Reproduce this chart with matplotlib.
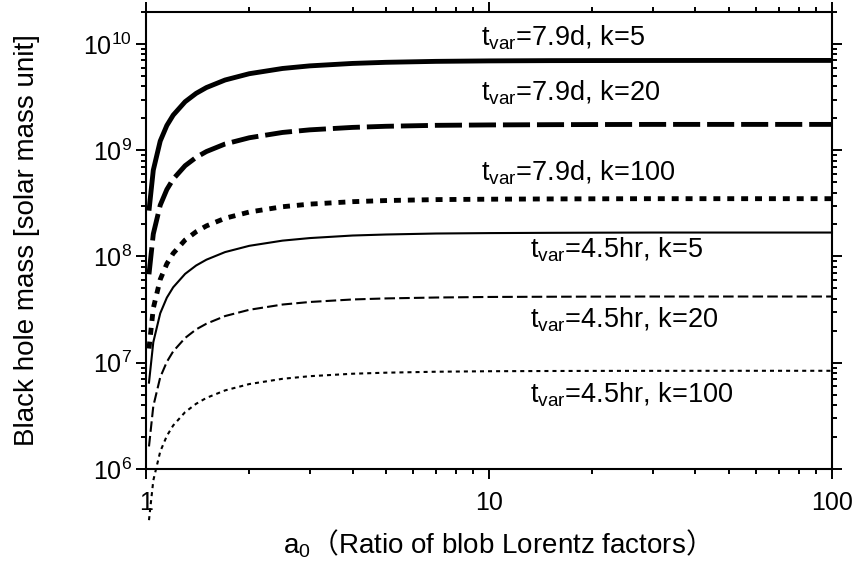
import matplotlib
matplotlib.use("Agg")
import matplotlib.pyplot as plt
from matplotlib.ticker import LogLocator, NullFormatter, FuncFormatter, LogFormatterSciNotation

plt.rcParams['font.family'] = ['Liberation Sans', 'Noto Sans CJK JP', 'DejaVu Sans']
plt.rcParams['mathtext.fontset'] = 'custom'
plt.rcParams['mathtext.rm'] = 'Liberation Sans'
plt.rcParams['mathtext.it'] = 'Liberation Sans'
plt.rcParams['mathtext.sf'] = 'Noto Sans CJK JP'
plt.rcParams['mathtext.default'] = 'regular'
plt.rcParams['lines.scale_dashes'] = False

# ---- data ----
a0 = [1.02, 1.05, 1.1, 1.15, 1.2, 1.3, 1.4, 1.5, 1.7, 2.0, 2.5, 3.0, 4.0, 5.0,
      7.0, 10, 15, 20, 30, 50, 70, 100]

m_79d_k5 = [2.7e8, 6.5e8, 1.22e9, 1.71e9, 2.14e9, 2.86e9, 3.43e9, 3.89e9, 4.58e9,
            5.25e9, 5.88e9, 6.22e9, 6.56e9, 6.72e9, 6.86e9, 6.93e9, 6.97e9, 6.98e9,
            6.99e9, 7.0e9, 7.0e9, 7.0e9]
m_79d_k20 = [6.8e7, 1.63e8, 3.04e8, 4.27e8, 5.35e8, 7.15e8, 8.57e8, 9.72e8, 1.145e9,
             1.31e9, 1.47e9, 1.555e9, 1.64e9, 1.68e9, 1.715e9, 1.73e9, 1.74e9, 1.745e9,
             1.75e9, 1.75e9, 1.75e9, 1.75e9]
m_79d_k100 = [1.36e7, 3.26e7, 6.08e7, 8.54e7, 1.07e8, 1.43e8, 1.71e8, 1.94e8, 2.29e8,
              2.62e8, 2.94e8, 3.11e8, 3.28e8, 3.36e8, 3.43e8, 3.46e8, 3.48e8, 3.49e8,
              3.5e8, 3.5e8, 3.5e8, 3.5e8]
m_45hr_k5 = [6.5e6, 1.56e7, 2.92e7, 4.1e7, 5.13e7, 6.86e7, 8.23e7, 9.33e7, 1.10e8,
             1.26e8, 1.41e8, 1.49e8, 1.575e8, 1.61e8, 1.645e8, 1.66e8, 1.67e8, 1.675e8,
             1.68e8, 1.68e8, 1.68e8, 1.68e8]
m_45hr_k20 = [1.63e6, 3.9e6, 7.3e6, 1.02e7, 1.28e7, 1.71e7, 2.06e7, 2.33e7, 2.75e7,
              3.15e7, 3.53e7, 3.73e7, 3.94e7, 4.03e7, 4.11e7, 4.16e7, 4.18e7, 4.19e7,
              4.2e7, 4.2e7, 4.2e7, 4.2e7]
m_45hr_k100 = [3.3e5, 7.8e5, 1.46e6, 2.05e6, 2.57e6, 3.43e6, 4.11e6, 4.67e6, 5.49e6,
               6.3e6, 7.06e6, 7.47e6, 7.88e6, 8.06e6, 8.23e6, 8.32e6, 8.36e6, 8.38e6,
               8.39e6, 8.4e6, 8.4e6, 8.4e6]

labels = [r'$t_{var}$=7.9d, k=5', r'$t_{var}$=7.9d, k=20', r'$t_{var}$=7.9d, k=100',
          r'$t_{var}$=4.5hr, k=5', r'$t_{var}$=4.5hr, k=20', r'$t_{var}$=4.5hr, k=100']
x_ticks = [1, 10, 100]
y_ticks = [1e6, 1e7, 1e8, 1e9, 1e10]

fig = plt.figure(figsize=(8.57, 5.68), dpi=100)
ax = fig.add_axes([0.1704, 0.1743, 0.8004, 0.8046])

thick = 3.5
thin = 1.5
ax.plot(a0, m_79d_k5, color='black', lw=thick, solid_capstyle='butt', clip_on=False)
ax.plot(a0, m_79d_k20, color='black', lw=thick, dashes=(19.5, 5), clip_on=False)
ax.plot(a0, m_79d_k100, color='black', lw=thick, dashes=(5, 5), clip_on=False)
ax.plot(a0, m_45hr_k5, color='black', lw=thin, clip_on=False)
ax.plot(a0, m_45hr_k20, color='black', lw=thin, dashes=(7.6, 3), clip_on=False)
ax.plot(a0, m_45hr_k100, color='black', lw=thin, dashes=(2.9, 2.9), clip_on=False)

ax.set_xscale('log')
ax.set_yscale('log')
ax.set_xlim(1, 100)
ax.set_ylim(1e6, 2e10)

ax.set_xticks(x_ticks)
ax.xaxis.set_major_formatter(FuncFormatter(lambda v, p: '%g' % v))
ax.xaxis.set_minor_locator(LogLocator(base=10, subs=range(2, 10)))
ax.xaxis.set_minor_formatter(NullFormatter())
ax.set_yticks(y_ticks)
ax.yaxis.set_major_formatter(LogFormatterSciNotation())
ax.yaxis.set_minor_locator(LogLocator(base=10, subs=range(2, 10)))
ax.yaxis.set_minor_formatter(NullFormatter())

ax.tick_params(which='both', direction='out', top=True, right=True,
               labeltop=False, labelright=False, width=1.4, color='black')
ax.tick_params(which='major', length=7.2, labelsize=18)
ax.tick_params(which='minor', length=3.8)
ax.tick_params(axis='x', which='major', pad=9)
ax.tick_params(axis='y', which='major', pad=3)
for s in ax.spines.values():
    s.set_linewidth(1.5)

ax.set_xlabel(r'$a_0\mathsf{（}$Ratio of blob Lorentz factors$\mathsf{）}$', fontsize=20, labelpad=9)
ax.set_ylabel('Black hole mass [solar mass unit]', fontsize=20)
ax.yaxis.set_label_coords(-0.1545, 0.5)

text_pos = [(9.5, 9.6e9), (9.5, 2.94e9), (9.5, 5.24e8),
            (13.2, 9.7e7), (13.2, 2.15e7), (13.2, 4.25e6)]
for (tx, ty), lab in zip(text_pos, labels):
    ax.text(tx, ty, lab, fontsize=19.5, ha='left', va='baseline')

fig.savefig('out.png', dpi=100)
